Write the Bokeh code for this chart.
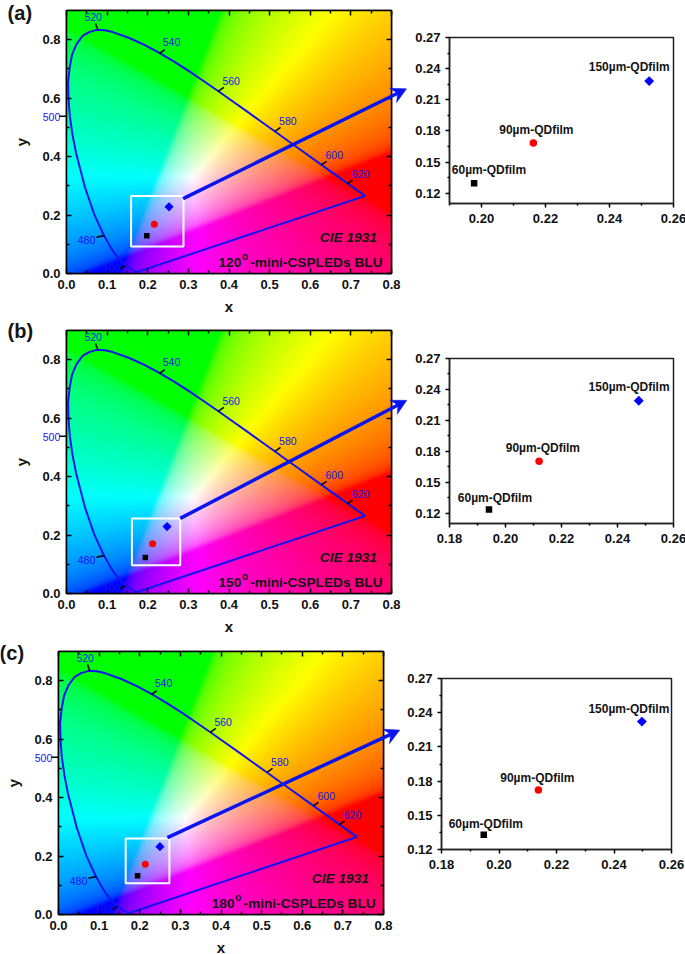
import numpy as np
from bokeh.plotting import figure
from bokeh.models import (Arrow, Label, LinearAxis, FixedTicker, Range1d, NumeralTickFormatter)
from bokeh.embed import file_html
from bokeh.resources import INLINE

# ---- data ----
locus_x = [.1741,.1733,.1714,.1689,.1644,.1566,.1440,.1355,.1241,.1096,.0913,.0687,.0454,.0235,.0146,.0082,.0049,.0039,.0077,.0139,.0247,.0389,.0555,.0743,.0938,.1142,.1547,.1929,.2296,.2658,.3016,.3373,.3731,.4087,.4441,.4788,.5125,.5448,.5752,.6029,.6270,.6482,.6658,.6801,.6915,.7006,.7079,.7190,.7260,.7300,.7320,.7347,.1741]
locus_y = [.0050,.0048,.0051,.0069,.0109,.0177,.0297,.0399,.0578,.0868,.1327,.2007,.2950,.4127,.4760,.5384,.5980,.6548,.7040,.7502,.7850,.8120,.8260,.8338,.8325,.8262,.8059,.7816,.7543,.7243,.6923,.6589,.6245,.5896,.5547,.5202,.4866,.4544,.4242,.3965,.3725,.3514,.3340,.3197,.3083,.2993,.2920,.2809,.2740,.2700,.2680,.2653,.0050]

wl_labels = ["520","540","560","580","600","620","480","460"]
wl_label_x = [.0657,.2585,.4054,.5448,.659,.7237,.0492,.11]
wl_label_y = [.8786,.792,.6587,.5208,.4058,.3419,.1162,.0195]
wl_tick_x0 = [.077,.229,.3733,.5132,.6269,.691,.0935,.1445]
wl_tick_y0 = [.833,.753,.6233,.4866,.3716,.3066,.13,.0274]
wl_tick_x1 = [.0714,.242,.3872,.5268,.64,.704,.0738,.133]
wl_tick_y1 = [.856,.766,.637,.5002,.384,.3203,.124,.016]

film_names = ["60µm-QDfilm","90µm-QDfilm","150µm-QDfilm"]
film_markers = ["square","circle","square"]
film_colors = ["black","#ff0000","#0000ff"]
film_angles = [0, 0, 0.7854]

panel_tags = ["(a)","(b)","(c)"]
panel_angles = ["120","150","180"]

xa = [.1977,.2162,.2524]; ya = [.1296,.1682,.2280]
xb = [.1941,.2120,.2476]; yb = [.1236,.1704,.2290]
xc = [.1947,.2137,.2497]; yc = [.1329,.1722,.2322]

box_a = (.159,.288,.092,.265); box_b = (.161,.280,.097,.257); box_c = (.1654,.273,.107,.26)
arrow_a = (.287,.256,.837,.632); arrow_b = (.280,.257,.8377,.661); arrow_c = (.268,.263,.840,.631)

dx_a = [14.8,3,-20];  dy_a = [12.7,12.7,14]
dx_b = [6,3.8,-9.7];  dy_b = [11.7,13.3,14]
dx_c = [2,-1,-13];    dy_c = [10.7,11.7,13]

FONT = "Liberation Sans"
BLUE = "#1414f0"
ARROW = "#0a14ee"
SX, SY = 325 / .8, 263 / .9   # pixels per unit of the CIE frames

# ---- chromaticity background (xy -> clipped, normalised sRGB, softened) ----
def cie_background(nx=325, ny=263, blur=2):
    xs = (np.arange(nx) + .5) / nx * .8
    ys = (np.arange(ny) + .5) / ny * .9
    x, y = np.meshgrid(xs, ys)
    X, Y, Z = x, y, 1 - x - y
    r =  3.2406*X - 1.5372*Y - 0.4986*Z
    g = -0.9689*X + 1.8758*Y + 0.0415*Z
    b =  0.0557*X - 0.2040*Y + 1.0570*Z
    rgb = np.clip(np.dstack([r, g, b]), 0, None)
    rgb = rgb / rgb.max(axis=2, keepdims=True)
    rgb = rgb ** (1 / 2.8)
    pad = np.pad(rgb, ((blur, blur), (blur, blur), (0, 0)), mode="edge")
    soft = np.zeros_like(rgb)
    for i in range(-blur, blur + 1):
        for j in range(-blur, blur + 1):
            soft += pad[blur + i:blur + i + ny, blur + j:blur + j + nx]
    rgb = soft / (2 * blur + 1) ** 2
    out = np.zeros((ny, nx), dtype=np.uint32)
    view = out.view(dtype=np.uint8).reshape((ny, nx, 4))
    view[..., :3] = (rgb * 255).astype(np.uint8)
    view[..., 3] = 255
    return out

BG = cie_background()

def mirror(p, place, ticks, major_in, minor_in):
    ax = LinearAxis(ticker=FixedTicker(ticks=ticks[0], minor_ticks=ticks[1]),
                    major_label_text_font_size="0px", major_label_text_color=None,
                    major_label_standoff=0, major_tick_in=major_in, major_tick_out=0,
                    minor_tick_in=minor_in, minor_tick_out=0,
                    axis_line_color="black", axis_line_width=1.5,
                    major_tick_line_width=1.5, minor_tick_line_width=1.5)
    p.add_layout(ax, place)

def cie_panel(angle, xs, ys, box, page_top, left, top, bottom, right, text_x0):
    p = figure(frame_width=325, frame_height=263, x_range=Range1d(0, .8), y_range=Range1d(0, .9),
               toolbar_location=None, output_backend="svg", x_axis_label="x", y_axis_label="y",
               min_border_left=left, min_border_top=top, min_border_bottom=bottom, min_border_right=right,
               styles={"position": "absolute", "left": "0px", "top": f"{page_top}px"})
    p.grid.visible = False
    p.outline_line_color = "black"; p.outline_line_width = 1.5
    xt = ([.0,.1,.2,.3,.4,.5,.6,.7,.8], [.05,.15,.25,.35,.45,.55,.65,.75])
    yt = ([.0,.2,.4,.6,.8], [.1,.3,.5,.7])
    for ax, t in ((p.xaxis[0], xt), (p.yaxis[0], yt)):
        ax.ticker = FixedTicker(ticks=t[0], minor_ticks=t[1])
        ax.formatter = NumeralTickFormatter(format="0.0")
        ax.major_tick_in = 5; ax.major_tick_out = 0
        ax.minor_tick_in = 3; ax.minor_tick_out = 0
        ax.major_tick_line_width = 1.5; ax.minor_tick_line_width = 1.5
        ax.axis_line_width = 1.5
        ax.major_label_text_font = FONT; ax.major_label_text_font_style = "bold"
        ax.major_label_text_font_size = "13px"; ax.major_label_text_color = "#111111"
        ax.major_label_standoff = 6
        ax.axis_label_text_font = FONT; ax.axis_label_text_font_style = "bold"
        ax.axis_label_text_font_size = "15px"; ax.axis_label_text_color = "#111111"
    p.xaxis[0].axis_label_standoff = 6
    p.yaxis[0].axis_label_standoff = 9
    p.yaxis[0].major_label_orientation = "horizontal"
    mirror(p, "above", xt, 5, 3)
    mirror(p, "right", yt, 5, 3)

    p.image_rgba(image=[BG], x=0, y=0, dw=.8, dh=.9)
    p.line(locus_x, locus_y, line_color=BLUE, line_width=2)
    for x0, y0, x1, y1 in zip(wl_tick_x0, wl_tick_y0, wl_tick_x1, wl_tick_y1):
        p.add_layout(Arrow(end=None, x_start=x0, y_start=y0, x_end=x1, y_end=y1,
                           line_color="black", line_width=1.5))
    for t, x, y in zip(wl_labels, wl_label_x, wl_label_y):
        p.add_layout(Label(x=x, y=y, text=t, text_align="center", text_baseline="middle",
                           text_font=FONT, text_font_size="10.5px", text_color=BLUE))
    p.quad(left=[box[0]], right=[box[1]], bottom=[box[2]], top=[box[3]],
           fill_color=None, line_color="white", line_width=2)
    for x, y, m, c, a in zip(xs, ys, film_markers, film_colors, film_angles):
        size = 6.5 if a else (5.5 if m == "square" else 7)
        p.scatter([x], [y], marker=m, size=size, angle=a, fill_color=c, line_color=None)

    bold = dict(text_font=FONT, text_font_style="bold", text_color="#141414")
    p.add_layout(Label(x=.6235, y=.124, text="CIE 1931", text_font=FONT, text_font_style="bold italic",
                       text_font_size="13.7px", text_color="#141414", text_baseline="alphabetic"))
    p.add_layout(Label(x=text_x0, y=.0386, text=angle, text_font_size="13.7px", text_baseline="alphabetic", **bold))
    p.add_layout(Label(x=text_x0 + .058, y=.058, text="o", text_font_size="10px", text_baseline="alphabetic", **bold))
    p.add_layout(Label(x=text_x0 + .0782, y=.0386, text="-mini-CSPLEDs BLU", text_font_size="13.7px",
                       text_baseline="alphabetic", **bold))
    return p

def overlay_panel(tag, arrow, page_top, left, top, bottom, tag_xy):
    """Transparent layer over a CIE panel, on the same xy scale, for marks that leave its frame."""
    W, H = 412, top + 263 + bottom
    p = figure(frame_width=W, frame_height=H,
               x_range=Range1d(-left / SX, (W - left) / SX),
               y_range=Range1d(-bottom / SY, (263 + top) / SY),
               toolbar_location=None, output_backend="svg",
               min_border_left=0, min_border_top=0, min_border_bottom=0, min_border_right=0,
               background_fill_color=None, border_fill_color=None, outline_line_color=None,
               styles={"position": "absolute", "left": "0px", "top": f"{page_top}px"})
    p.axis.visible = False
    p.grid.visible = False
    # tick and label of 500 nm, left of the frame
    p.line([-.0172, 0], [.5384, .5384], line_color="black", line_width=1.5)
    p.add_layout(Label(x=-.0369, y=.5344, text="500", text_align="center", text_baseline="middle",
                       text_font=FONT, text_font_size="10.5px", text_color=BLUE))
    p.add_layout(Label(x=tag_xy[0], y=tag_xy[1], text=tag, text_font=FONT, text_font_style="bold",
                       text_font_size="20px", text_color="#141414", text_baseline="middle"))
    # arrow: shaft and notched head
    px0, py0, px1, py1 = arrow[0]*SX, arrow[1]*SY, arrow[2]*SX, arrow[3]*SY
    L = np.hypot(px1-px0, py1-py0); ux, uy = (px1-px0)/L, (py1-py0)/L; nx, ny = -uy, ux
    back, notch, half = 15, 10, 8
    hx = [px1, px1-back*ux+half*nx, px1-notch*ux, px1-back*ux-half*nx]
    hy = [py1, py1-back*uy+half*ny, py1-notch*uy, py1-back*uy-half*ny]
    p.line([arrow[0], (px1-notch*ux)/SX], [arrow[1], (py1-notch*uy)/SY], line_color=ARROW, line_width=3.5)
    p.patch([v/SX for v in hx], [v/SY for v in hy], fill_color=ARROW, line_color=ARROW, line_width=0.5)
    return p

def zoom_panel(xs, ys, dx, dy, x0, y0, fw, fh, page_left, page_top, left, top, bottom, right):
    p = figure(frame_width=fw, frame_height=fh, x_range=Range1d(x0, .26), y_range=Range1d(y0, .27),
               toolbar_location=None, output_backend="svg",
               min_border_left=left, min_border_top=top, min_border_bottom=bottom, min_border_right=right,
               styles={"position": "absolute", "left": f"{page_left}px", "top": f"{page_top}px"})
    p.grid.visible = False
    p.outline_line_color = "#222222"; p.outline_line_width = 1.5
    xt = ([.18,.20,.22,.24,.26], [.19,.21,.23,.25])
    yt = ([.12,.15,.18,.21,.24,.27], [.135,.165,.195,.225,.255])
    for ax, t in ((p.xaxis[0], xt), (p.yaxis[0], yt)):
        ax.ticker = FixedTicker(ticks=t[0], minor_ticks=t[1])
        ax.formatter = NumeralTickFormatter(format="0.00")
        ax.major_tick_in = 0; ax.major_tick_out = 4
        ax.minor_tick_in = 0; ax.minor_tick_out = 2
        ax.major_tick_line_width = 1.5; ax.minor_tick_line_width = 1.5
        ax.axis_line_width = 1.5; ax.axis_line_color = "#222222"
        ax.major_label_text_font = FONT; ax.major_label_text_font_style = "bold"
        ax.major_label_text_font_size = "13px"; ax.major_label_text_color = "#111111"
        ax.major_label_standoff = 5
    p.xaxis[0].major_label_standoff = 6
    for x, y, m, c, a in zip(xs, ys, film_markers, film_colors, film_angles):
        size = 7 if a else (6.5 if m == "square" else 7.5)
        p.scatter([x], [y], marker=m, size=size, angle=a, fill_color=c, line_color=None)
    for x, y, name, ox, oy in zip(xs, ys, film_names, dx, dy):
        p.add_layout(Label(x=x, y=y, x_offset=ox, y_offset=oy, text=name, text_align="center",
                           text_baseline="middle", text_font=FONT, text_font_style="bold",
                           text_font_size="12px", text_color="#141414"))
    return p

a1 = cie_panel(panel_angles[0], xa, ya, box_a, 0, 66, 10, 45, 21, .374)
a3 = overlay_panel(panel_tags[0], arrow_a, 0, 66, 10, 45, (-.145, .892))
a2 = zoom_panel(xa, ya, dx_a, dy_a, .19, .11, 224, 166, 412, 0, 36, 37, 30, 13)
b1 = cie_panel(panel_angles[1], xb, yb, box_b, 318, 66, 12, 45, 21, .374)
b3 = overlay_panel(panel_tags[1], arrow_b, 318, 66, 12, 45, (-.145, .9))
b2 = zoom_panel(xb, yb, dx_b, dy_b, .18, .11, 224, 165, 412, 318, 36, 40, 30, 13)
c1 = cie_panel(panel_angles[2], xc, yc, box_c, 638, 58, 13, 40, 30, .377)
c3 = overlay_panel(panel_tags[2], arrow_c, 638, 58, 13, 40, (-.145, .895))
c2 = zoom_panel(xc, yc, dx_c, dy_c, .18, .12, 230, 171, 404, 638, 37, 40, 30, 14)

open("out.html", "w").write(file_html([a1, a3, a2, b1, b3, b2, c1, c3, c2], INLINE))
